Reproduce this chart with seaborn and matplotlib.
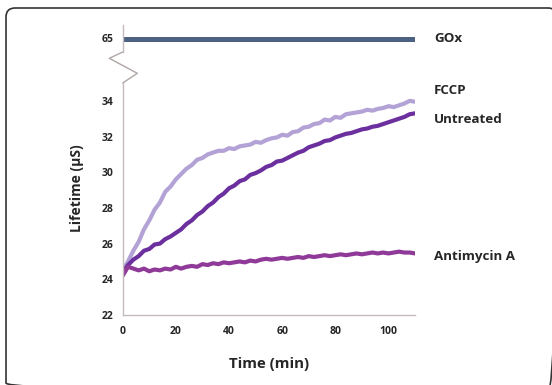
import numpy as np
import pandas as pd
import matplotlib
matplotlib.use("Agg")
import matplotlib.pyplot as plt
import seaborn as sns
from matplotlib.patches import FancyBboxPatch

# ---------------- data ----------------
time_min = [0, 2, 4, 6, 8, 10, 12, 14, 16, 18, 20, 22, 24, 26, 28, 30, 32, 34, 36, 38,
            40, 42, 44, 46, 48, 50, 52, 54, 56, 58, 60, 62, 64, 66, 68, 70, 72, 74, 76, 78,
            80, 82, 84, 86, 88, 90, 92, 94, 96, 98, 100, 102, 104, 106, 108, 110]

fccp = [24.5, 25.0, 25.6, 26.1, 26.8, 27.3, 27.9, 28.3, 28.9, 29.2,
        29.6, 29.9, 30.2, 30.4, 30.7, 30.8, 31.0, 31.1, 31.2, 31.2,
        31.35, 31.3, 31.45, 31.5, 31.55, 31.7, 31.65, 31.8, 31.9, 31.95,
        32.1, 32.05, 32.25, 32.3, 32.5, 32.55, 32.7, 32.75, 32.95, 32.9,
        33.1, 33.05, 33.25, 33.3, 33.35, 33.4, 33.5, 33.45, 33.55, 33.6,
        33.7, 33.65, 33.75, 33.85, 34.0, 33.95]

untreated = [24.4, 24.8, 25.1, 25.3, 25.6, 25.7, 25.95, 26.0, 26.25, 26.4,
             26.6, 26.8, 27.1, 27.3, 27.6, 27.8, 28.1, 28.3, 28.6, 28.8,
             29.1, 29.25, 29.5, 29.6, 29.85, 29.95, 30.1, 30.3, 30.4, 30.6,
             30.65, 30.8, 30.95, 31.1, 31.2, 31.4, 31.5, 31.6, 31.75, 31.8,
             31.95, 32.05, 32.15, 32.2, 32.3, 32.4, 32.45, 32.55, 32.6, 32.7,
             32.8, 32.9, 33.0, 33.1, 33.25, 33.3]

antimycin = [24.2, 24.7, 24.6, 24.5, 24.6, 24.45, 24.55, 24.5, 24.6, 24.55,
             24.7, 24.6, 24.7, 24.75, 24.7, 24.85, 24.8, 24.9, 24.85, 24.95,
             24.9, 24.95, 25.0, 24.95, 25.05, 25.0, 25.1, 25.15, 25.1, 25.15,
             25.2, 25.15, 25.2, 25.25, 25.2, 25.3, 25.25, 25.3, 25.35, 25.3,
             25.35, 25.4, 25.35, 25.4, 25.45, 25.4, 25.45, 25.5, 25.45, 25.5,
             25.45, 25.5, 25.55, 25.5, 25.5, 25.45]

gox_time = [0, 110]
gox = [65, 65]

series_names = ["FCCP", "Untreated", "Antimycin A"]
label_y = {"GOx": 65, "FCCP": 34.56, "Untreated": 32.93, "Antimycin A": 25.27}
x_ticks = [0, 20, 40, 60, 80, 100]
y_ticks_low = [22, 24, 26, 28, 30, 32, 34]
y_ticks_high = [65]

colors = {"FCCP": "#b3a2d6", "Untreated": "#6b2f9e", "Antimycin A": "#8f3a98",
          "GOx": "#4d6183"}

# ---------------- style ----------------
sns.set_style("white")
plt.rcParams["font.family"] = ["Open Sans", "DejaVu Sans"]
plt.rcParams["font.weight"] = "bold"
plt.rcParams["savefig.bbox"] = "standard"

W, H = 552, 385
fig = plt.figure(figsize=(W / 100, H / 100), dpi=100)

# background axes in pixel units, used for the rounded frame and the axis break
bg = fig.add_axes([0, 0, 1, 1], zorder=-5)
bg.set_xlim(0, W)
bg.set_ylim(H, 0)
bg.axis("off")
bg.add_patch(FancyBboxPatch((6, 8), 551, 384,
                            boxstyle="round,pad=0,rounding_size=9",
                            facecolor="none", edgecolor="#333333", linewidth=1.2))

def px_box(l, r, t, b):
    return [l / W, 1 - b / H, (r - l) / W, (b - t) / H]

ax_left, ax_right = 122.7, 415
ax = fig.add_axes(px_box(ax_left, ax_right, 83, 315))
ax_top = fig.add_axes(px_box(ax_left, ax_right, 25, 52))

df = pd.DataFrame({
    "time": time_min * 3,
    "value": fccp + untreated + antimycin,
    "series": sum([[n] * len(time_min) for n in series_names], []),
})
sns.lineplot(data=df, x="time", y="value", hue="series", palette=colors,
             hue_order=series_names, linewidth=3.0, legend=False, ax=ax)

df_g = pd.DataFrame({"time": gox_time, "value": gox})
sns.lineplot(data=df_g, x="time", y="value", color=colors["GOx"], linewidth=3.6,
             legend=False, ax=ax_top)

spine_c = "#c4bcbc"
text_c = "#262626"

for a in (ax, ax_top):
    a.set_xlim(0, 110)
    a.set_facecolor("none")
    for s in ("top", "right"):
        a.spines[s].set_visible(False)
    a.spines["left"].set_color(spine_c)
    a.spines["left"].set_linewidth(1.0)
    a.set_xlabel("")
    a.set_ylabel("")
    a.tick_params(axis="y", direction="out", length=3, width=0.8, color=spine_c,
                  pad=3.5, labelsize=7.5, labelcolor=text_c)

ax.set_ylim(22, 35)
ax.set_yticks(y_ticks_low)
ax.set_xticks(x_ticks)
ax.spines["bottom"].set_color(spine_c)
ax.spines["bottom"].set_linewidth(1.0)
ax.tick_params(axis="x", direction="out", length=3, width=0.8, color=spine_c,
               pad=5, labelsize=7.5, labelcolor=text_c)

ax_top.set_ylim(64, 66)
ax_top.set_yticks(y_ticks_high)
ax_top.spines["bottom"].set_visible(False)
ax_top.set_xticks([])

for lab in ax.get_xticklabels() + ax.get_yticklabels() + ax_top.get_yticklabels():
    lab.set_fontweight("bold")

ax.set_xlabel("Time (min)", fontsize=10.8, fontweight="bold", color=text_c, labelpad=14)
fig.text(77 / W, 1 - 188 / H, "Lifetime (µS)", rotation=90, fontsize=10,
         fontweight="bold", color=text_c, ha="center", va="center")

# series labels to the right
lab_x = (434 - ax_left) / (ax_right - ax_left)
for name in series_names:
    ax.text(lab_x, label_y[name], name, transform=ax.get_yaxis_transform(),
            fontsize=9.6, fontweight="bold", color=text_c, va="center", ha="left",
            clip_on=False)
ax_top.text(lab_x, label_y["GOx"], "GOx", transform=ax_top.get_yaxis_transform(),
            fontsize=9.6, fontweight="bold", color=text_c, va="center", ha="left",
            clip_on=False)

# axis break zigzag (pixel units on the background axes)
zz_x = [ax_left, ax_left - 13.4, ax_left + 14.6, ax_left]
zz_y = [52, 58.3, 73.3, 83]
bg.plot(zz_x, zz_y, color="#b0a6a6", linewidth=1.0)

fig.savefig("out.png", dpi=100)
